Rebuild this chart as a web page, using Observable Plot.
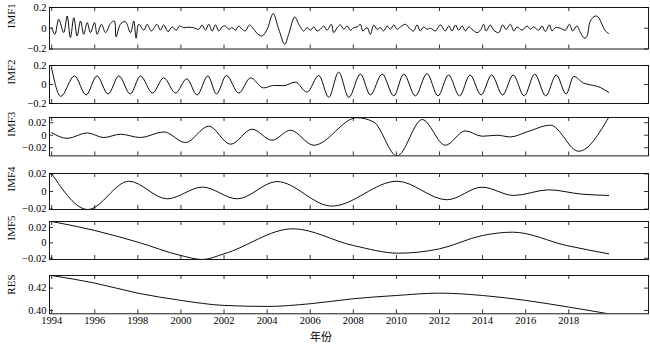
<!DOCTYPE html>
<html>
<head>
<meta charset="utf-8">
<script src="https://cdn.jsdelivr.net/npm/d3@7"></script>
<script src="https://cdn.jsdelivr.net/npm/@observablehq/plot@0.6"></script>
<style>
  body { margin: 0; background: #fff; }
  #chart { position: relative; width: 650px; height: 346px; overflow: hidden; }
  #chart svg { position: absolute; left: 0; }
</style>
</head>
<body>
<div id="chart"></div>
<script>
// ---------------- data ----------------
const xTickYears = [1994, 1996, 1998, 2000, 2002, 2004, 2006, 2008, 2010, 2012, 2014, 2016, 2018];

const imf1Year = [
  1994.00, 1994.15, 1994.33, 1994.56, 1994.72, 1994.87, 1995.03, 1995.18, 1995.34, 1995.49,
  1995.65, 1995.80, 1995.99, 1996.11, 1996.31, 1996.50, 1996.73, 1996.91, 1996.99, 1997.19,
  1997.42, 1997.66, 1997.81, 1997.92, 1998.04, 1998.28, 1998.43, 1998.63, 1998.89, 1999.05,
  1999.20, 1999.40, 1999.59, 1999.78, 1999.93, 2000.13, 2000.36, 2000.60, 2000.83, 2000.98,
  2001.14, 2001.29, 2001.45, 2001.60, 2001.76, 2001.91, 2002.06, 2002.22, 2002.37, 2002.53,
  2002.68, 2002.84, 2002.99, 2003.18, 2003.38, 2003.58, 2003.77, 2004.00, 2004.28, 2004.54,
  2004.82, 2005.00, 2005.28, 2005.47, 2005.70, 2005.86, 2006.01, 2006.16, 2006.32, 2006.47,
  2006.63, 2006.78, 2006.98, 2007.09, 2007.25, 2007.40, 2007.56, 2007.71, 2007.87, 2008.02,
  2008.18, 2008.33, 2008.44, 2008.64, 2008.79, 2008.95, 2009.10, 2009.26, 2009.41, 2009.57,
  2009.72, 2009.88, 2010.03, 2010.19, 2010.42, 2010.65, 2010.80, 2010.96, 2011.11, 2011.27,
  2011.42, 2011.58, 2011.81, 2012.04, 2012.27, 2012.43, 2012.58, 2012.74, 2012.89, 2013.05,
  2013.20, 2013.36, 2013.51, 2013.74, 2013.90, 2014.05, 2014.16, 2014.36, 2014.52, 2014.75,
  2014.93, 2015.09, 2015.29, 2015.45, 2015.60, 2015.83, 2016.06, 2016.22, 2016.37, 2016.60,
  2016.76, 2016.91, 2017.10, 2017.22, 2017.38, 2017.61, 2017.84, 2018.03, 2018.18, 2018.38,
  2018.54, 2018.74, 2018.85, 2019.00, 2019.23, 2019.39, 2019.54, 2019.70, 2019.85
];
const imf1Value = [
  0.006, -0.058, 0.086, -0.042, 0.118, -0.090, 0.102, -0.074, 0.070, -0.058,
  0.054, -0.042, 0.054, -0.058, 0.038, -0.042, 0.045, 0.070, -0.083, 0.038,
  0.064, -0.042, 0.070, -0.096, 0.038, -0.019, 0.038, -0.026, 0.038, -0.019,
  0.032, -0.032, 0.013, -0.019, 0.022, 0.006, 0.010, 0.004, -0.010, 0.032,
  -0.019, 0.038, -0.026, 0.032, -0.026, 0.013, 0.022, -0.010, 0.006, -0.019,
  0.022, -0.010, -0.026, 0.032, -0.010, -0.058, -0.074, -0.010, 0.141, -0.010,
  -0.154, -0.058, 0.109, 0.038, -0.026, 0.006, -0.019, 0.013, -0.026, -0.010,
  0.022, -0.019, 0.038, -0.042, 0.006, 0.032, -0.010, 0.022, -0.019, 0.006,
  0.013, 0.038, -0.026, 0.006, -0.058, 0.032, -0.010, 0.006, -0.026, 0.022,
  -0.010, 0.032, -0.010, 0.013, 0.038, -0.010, -0.026, 0.032, -0.026, 0.013,
  -0.010, 0.000, -0.026, 0.032, -0.026, 0.022, -0.026, 0.032, -0.019, 0.022,
  -0.026, 0.013, -0.010, -0.042, -0.019, 0.038, -0.026, 0.032, -0.019, -0.042,
  0.032, -0.010, 0.038, -0.026, 0.013, -0.019, 0.022, -0.010, 0.013, -0.019,
  0.022, -0.032, 0.032, -0.026, 0.006, 0.000, -0.019, 0.038, -0.026, 0.022,
  -0.042, -0.096, -0.074, 0.070, 0.118, 0.102, 0.038, -0.026, -0.051
];

const imf2Year = [
  1994.00, 1994.42, 1995.06, 1995.60, 1996.10, 1996.62, 1997.12, 1997.65, 1998.12, 1998.68,
  1999.20, 1999.75, 2000.27, 2000.75, 2001.25, 2001.65, 2002.11, 2002.68, 2003.23, 2003.84,
  2004.30, 2004.77, 2005.31, 2005.85, 2006.40, 2006.86, 2007.32, 2007.79, 2008.33, 2008.79,
  2009.34, 2009.88, 2010.34, 2010.88, 2011.42, 2011.93, 2012.42, 2012.93, 2013.42, 2013.93,
  2014.42, 2014.93, 2015.42, 2015.93, 2016.42, 2016.93, 2017.42, 2017.88, 2018.23, 2018.69,
  2019.00, 2019.45, 2019.85
];
const imf2Value = [
  0.170, -0.125, 0.090, -0.110, 0.090, -0.100, 0.090, -0.100, 0.090, -0.090,
  0.070, -0.090, 0.060, -0.110, 0.090, -0.100, 0.095, -0.090, 0.070, -0.036,
  -0.010, -0.012, 0.025, -0.080, 0.095, -0.135, 0.130, -0.135, 0.110, -0.110,
  0.110, -0.120, 0.110, -0.120, 0.115, -0.120, 0.100, -0.120, 0.100, -0.110,
  0.100, -0.110, 0.100, -0.120, 0.110, -0.120, 0.100, -0.100, 0.086, 0.014,
  -0.003, -0.030, -0.082
];

const imf3Year = [
  1994.00, 1994.72, 1995.65, 1996.42, 1997.19, 1998.12, 1999.20, 2000.21, 2001.29, 2002.30,
  2003.30, 2004.23, 2005.08, 2006.16, 2008.17, 2008.95, 2010.03, 2011.20, 2012.27, 2013.20,
  2013.98, 2014.67, 2015.29, 2016.06, 2017.15, 2018.46, 2019.85
];
const imf3Value = [
  0.0040, -0.0050, 0.0037, -0.0037, 0.0016, -0.0037, 0.0053, -0.0117, 0.0145, -0.0144,
  0.0096, -0.0080, 0.0080, -0.0160, 0.0280, 0.0210, -0.0330, 0.0250, -0.0160, 0.0070,
  -0.0016, 0.0000, -0.0027, 0.0053, 0.0160, -0.0256, 0.0283
];

const imf4Year = [
  1994.00, 1995.68, 1997.58, 1999.36, 2001.00, 2002.61, 2004.46, 2007.00, 2010.03, 2012.35,
  2013.98, 2015.45, 2017.07, 2018.60, 2019.85
];
const imf4Value = [
  0.0205, -0.0205, 0.0117, -0.0083, 0.0050, -0.0083, 0.0113, -0.0166, 0.0117, -0.0094,
  0.0049, -0.0045, 0.0019, -0.0030, -0.0045
];

const imf5Year = [
  1994.00, 1996.00, 1998.00, 2000.00, 2001.00, 2002.00, 2005.20, 2008.00, 2010.10, 2012.00,
  2014.00, 2015.40, 2017.90, 2019.85
];
const imf5Value = [
  0.0278, 0.0161, 0.0009, -0.0165, -0.0217, -0.0143, 0.0183, -0.0035, -0.0135, -0.0078,
  0.0096, 0.0139, -0.0035, -0.0143
];

const resYear = [
  1994.00, 1996.00, 1998.00, 2000.00, 2002.00, 2004.00, 2006.00, 2008.00, 2010.00, 2012.00,
  2014.00, 2016.00, 2018.00, 2019.85
];
const resValue = [
  0.4313, 0.4245, 0.4155, 0.4090, 0.4045, 0.4036, 0.4060, 0.4105, 0.4134, 0.4155,
  0.4134, 0.4090, 0.4030, 0.3970
];

const symTicksLarge = [-0.2, 0, 0.2];
const symTicksSmall = [-0.02, 0, 0.02];
const resTicks = [0.40, 0.42];

// ---------------- layout ----------------
const fmtSym = d => d === 0 ? "0" : (d < 0 ? "\u2212" : "") + String(Math.abs(d));
const fmtRes = d3.format(".2f");

const panels = [
  {name: "IMF1", year: imf1Year, value: imf1Value, top: 6.5,  h: 41.5, domain: [-0.2, 0.2], ticks: symTicksLarge, fmt: fmtSym, curve: "catmull-rom"},
  {name: "IMF2", year: imf2Year, value: imf2Value, top: 65.3, h: 38,   domain: [-0.2, 0.2], ticks: symTicksLarge, fmt: fmtSym, curve: "monotone-x"},
  {name: "IMF3", year: imf3Year, value: imf3Value, top: 117.3, h: 38.4, domain: null, ticks: symTicksSmall, fmt: fmtSym, curve: "monotone-x"},
  {name: "IMF4", year: imf4Year, value: imf4Value, top: 172.7, h: 36,   domain: null, ticks: symTicksSmall, fmt: fmtSym, curve: "monotone-x"},
  {name: "IMF5", year: imf5Year, value: imf5Value, top: 221,   h: 38,   domain: null, ticks: symTicksSmall, fmt: fmtSym, curve: "monotone-x"},
  {name: "RES",  year: resYear,  value: resValue,  top: 275,   h: 38.3, domain: null, ticks: resTicks,      fmt: fmtRes, curve: "monotone-x"}
];

const W = 650, mL = 49, mR = 2, tick = 4;
const frameW = W - mL - mR;
const xDomain = [1993.9, 2021.7];
const chart = document.getElementById("chart");

panels.forEach((p, i) => {
  const last = i === panels.length - 1;
  const mT = 8, mB = last ? 34 : 8;
  const rows = p.year.map((y, j) => ({year: y, value: p.value[j]}));
  const yDomain = p.domain || d3.extent(p.value);
  const marks = [
    Plot.line(rows, {x: "year", y: "value", curve: p.curve, stroke: "#000", strokeWidth: 0.95, clip: true}),
    Plot.ruleX(xTickYears, {x: d => d, insetTop: p.h - tick, stroke: "#000", strokeWidth: 0.8}),
    Plot.ruleX(xTickYears, {x: d => d, insetBottom: p.h - tick, stroke: "#000", strokeWidth: 0.8}),
    Plot.ruleY(p.ticks, {y: d => d, insetRight: frameW - tick, stroke: "#000", strokeWidth: 0.8}),
    Plot.ruleY(p.ticks, {y: d => d, insetLeft: frameW - tick, stroke: "#000", strokeWidth: 0.8}),
    Plot.frame({stroke: "#000", strokeWidth: 0.9}),
    Plot.axisY({ticks: p.ticks, tickSize: 0, tickPadding: 3, tickFormat: p.fmt, label: null, fontSize: 10.5}),
    Plot.text([p.name], {frameAnchor: "left", dx: -38, rotate: -90, fontSize: 11, fill: "#000"})
  ];
  if (last) {
    marks.push(Plot.axisX({ticks: xTickYears, tickSize: 0, tickPadding: 3, tickFormat: d => String(d), label: null, fontSize: 10.5}));
    marks.push(Plot.text(["年份"], {frameAnchor: "bottom", dx: -28, dy: 27, fontSize: 11, fill: "#000",
      fontFamily: "'Noto Sans CJK SC', 'Liberation Serif', serif"}));
  }
  const svg = Plot.plot({
    width: W,
    height: p.h + mT + mB,
    marginLeft: mL, marginRight: mR, marginTop: mT, marginBottom: mB,
    x: {domain: xDomain, axis: null},
    y: {domain: yDomain, axis: null},
    style: {fontFamily: "'Liberation Serif', 'Times New Roman', serif", fontSize: "10.5px", color: "#000", background: "transparent", overflow: "visible"},
    marks
  });
  svg.style.top = (p.top - mT) + "px";
  chart.appendChild(svg);
});
</script>
</body>
</html>
